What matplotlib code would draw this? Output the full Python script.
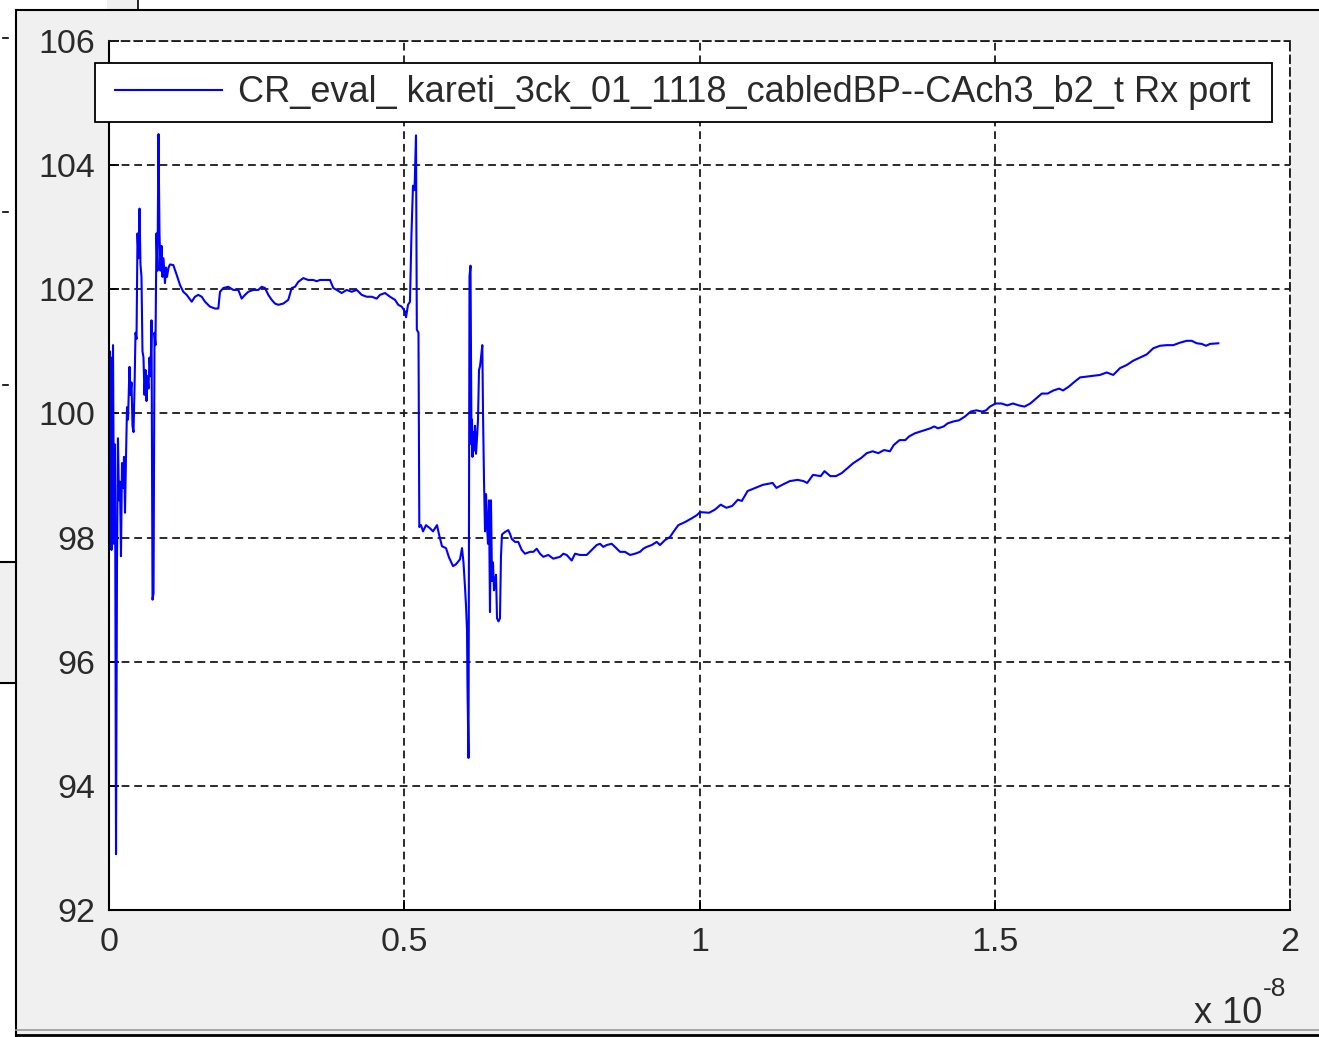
import numpy as np
import matplotlib
matplotlib.use('Agg')
import matplotlib.pyplot as plt
from matplotlib.patches import Rectangle
from matplotlib.lines import Line2D

plt.rcParams['font.family'] = ['Liberation Sans', 'DejaVu Sans']
plt.rcParams['font.size'] = 24.5

# time axis in units of 1e-8 s, impedance-like level on y
t_start = [0, 0.00085, 0.0017, 0.0025, 0.0034, 0.0042, 0.0051, 0.0068, 0.0085, 0.0102,
           0.0119, 0.0135, 0.0152, 0.0169, 0.0186, 0.0203, 0.0220, 0.0237, 0.0254, 0.0271,
           0.0288, 0.0305, 0.0322, 0.0347, 0.0364, 0.0381, 0.0398, 0.0415, 0.0432, 0.0449,
           0.0466, 0.0483, 0.0500, 0.0517, 0.0533, 0.0550, 0.0567, 0.0584, 0.0601, 0.0618,
           0.0635, 0.0652, 0.0669, 0.0686, 0.0703, 0.0720, 0.0737, 0.0754, 0.0771, 0.0787,
           0.0804, 0.0821, 0.0838, 0.0855, 0.0872, 0.0889, 0.0906, 0.0923, 0.0948, 0.0965,
           0.0982, 0.1008, 0.1033]
v_start = [100.0, 97.9, 101.0, 98.0, 100.9, 97.8, 99.0, 101.1, 97.9, 99.5,
           92.9, 97.5, 99.6, 98.6, 98.9, 97.7, 99.2, 98.8, 99.3, 98.4,
           99.3, 100.1, 99.9, 100.75, 100.3, 100.5, 99.8, 99.7, 100.4, 101.3,
           101.2, 102.9, 102.5, 103.3, 102.4, 102.2, 101.0, 100.9, 100.3, 100.7,
           100.2, 100.6, 100.4, 100.9, 100.6, 101.5, 97.0, 97.1, 101.3, 101.1,
           102.9, 102.3, 104.5, 102.9, 102.3, 102.7, 102.2, 102.5, 102.1, 102.35,
           102.2, 102.35, 102.4]

t_plateau = [0.1089, 0.1147, 0.1202, 0.1258, 0.1316, 0.1401, 0.1456, 0.1512, 0.1570, 0.1626,
             0.1710, 0.1795, 0.1851, 0.1880, 0.1936, 0.2020, 0.2105, 0.2190, 0.2247, 0.2303,
             0.2359, 0.2444, 0.2528, 0.2586, 0.2642, 0.2698, 0.2755, 0.2811, 0.2867, 0.2952,
             0.3036, 0.3094, 0.3150, 0.3206, 0.3290, 0.3375, 0.3460, 0.3517, 0.3573, 0.3658,
             0.3743, 0.3799, 0.3856, 0.3941, 0.4025, 0.4110, 0.4195, 0.4280, 0.4364, 0.4449,
             0.4534, 0.4589, 0.4674, 0.4759, 0.4843, 0.4899, 0.4957, 0.5013, 0.5030]
v_plateau = [102.39, 102.23, 102.07, 101.96, 101.91, 101.80, 101.88, 101.91, 101.88, 101.80,
             101.72, 101.69, 101.69, 101.96, 102.02, 102.04, 101.99, 101.99, 101.85, 101.91,
             101.96, 101.99, 101.99, 102.04, 102.02, 101.91, 101.83, 101.77, 101.75, 101.77,
             101.83, 102.02, 102.04, 102.12, 102.18, 102.15, 102.15, 102.13, 102.15, 102.15,
             102.15, 102.02, 101.99, 101.94, 101.99, 101.96, 101.99, 101.91, 101.88, 101.88,
             101.85, 101.91, 101.94, 101.88, 101.83, 101.75, 101.72, 101.64, 101.55]

t_middle = [0.5064, 0.5097, 0.5121, 0.5148, 0.5174, 0.5199, 0.5213, 0.5241, 0.5255, 0.5284,
            0.5318, 0.5368, 0.5436, 0.5487, 0.5555, 0.5589, 0.5639, 0.5707, 0.5758, 0.5826,
            0.5876, 0.5944, 0.5978, 0.6003, 0.6029, 0.6046, 0.6063, 0.6071, 0.6088, 0.6105,
            0.6122, 0.6139, 0.6147, 0.6156, 0.6164, 0.6181, 0.6198, 0.6215, 0.6232, 0.6249,
            0.6266, 0.6283, 0.6300, 0.6322, 0.6334, 0.6351, 0.6368, 0.6385, 0.6401, 0.6418,
            0.6435, 0.6452, 0.6469, 0.6486, 0.6503, 0.6520, 0.6537, 0.6554, 0.6571, 0.6596,
            0.6621, 0.6638, 0.6655]
v_middle = [101.75, 101.80, 102.85, 103.67, 103.6, 104.48, 101.35, 101.3, 98.17, 98.2,
            98.1, 98.2, 98.15, 98.1, 98.2, 98.05, 97.86, 97.83, 97.68, 97.54,
            97.57, 97.65, 97.83, 97.6, 97.2, 96.9, 96.5, 95.6, 94.45, 102.2,
            102.38, 99.5, 99.9, 99.3, 99.7, 99.4, 99.8, 99.35, 99.6, 99.9,
            100.7, 100.76, 100.9, 101.1, 100.0, 98.9, 98.1, 98.7, 98.2, 97.9,
            98.6, 96.8, 98.6, 97.3, 97.6, 97.15, 97.3, 97.4, 96.7, 96.65,
            96.7, 97.7, 98.05]

t_valley = [0.6706, 0.6762, 0.6791, 0.6820, 0.6876, 0.6931, 0.6989, 0.7045, 0.7130, 0.7186,
            0.7243, 0.7299, 0.7355, 0.7440, 0.7524, 0.7638, 0.7694, 0.7751, 0.7836, 0.7892,
            0.7976, 0.8090, 0.8175, 0.8259, 0.8315, 0.8371, 0.8429, 0.8513, 0.8569, 0.8654,
            0.8738, 0.8823, 0.8908, 0.8992, 0.9048, 0.9106, 0.9191, 0.9275, 0.9331, 0.9416,
            0.9501, 0.9557, 0.9641, 0.9755, 0.9868, 0.9953, 1.0009]
v_valley = [98.09, 98.12, 98.06, 97.98, 97.93, 97.93, 97.80, 97.74, 97.77, 97.77,
            97.82, 97.74, 97.69, 97.72, 97.66, 97.69, 97.74, 97.72, 97.63, 97.74,
            97.72, 97.72, 97.80, 97.88, 97.90, 97.85, 97.88, 97.90, 97.85, 97.77,
            97.77, 97.72, 97.74, 97.77, 97.82, 97.85, 97.88, 97.93, 97.88, 97.96,
            98.01, 98.09, 98.20, 98.25, 98.31, 98.36, 98.41]

t_ramp = [1.0163, 1.0261, 1.0359, 1.0456, 1.0554, 1.0650, 1.0716, 1.0815, 1.0945, 1.1075,
          1.1238, 1.1302, 1.1401, 1.1531, 1.1662, 1.1760, 1.1824, 1.1922, 1.2053, 1.2117,
          1.2215, 1.2312, 1.2410, 1.2508, 1.2605, 1.2735, 1.2833, 1.2932, 1.3028, 1.3126,
          1.3225, 1.3289, 1.3387, 1.3485, 1.3550, 1.3648, 1.3746, 1.3810, 1.3909, 1.3975,
          1.4039, 1.4136, 1.4202, 1.4298, 1.4397, 1.4495, 1.4593, 1.4689, 1.4788, 1.4854,
          1.4918, 1.5016, 1.5113, 1.5211, 1.5309, 1.5407, 1.5504, 1.5602, 1.5700, 1.5797,
          1.5895, 1.5993, 1.6090, 1.6156, 1.6252, 1.6351, 1.6444, 1.6613, 1.6782, 1.6896,
          1.7007, 1.7121, 1.7235, 1.7346, 1.7460, 1.7573, 1.7685, 1.7798, 1.7912, 1.8024,
          1.8137, 1.8251, 1.8336, 1.8420, 1.8505, 1.8578, 1.8646, 1.8786]
v_ramp = [98.40, 98.45, 98.53, 98.48, 98.51, 98.61, 98.59, 98.75, 98.80, 98.85,
          98.88, 98.80, 98.85, 98.91, 98.93, 98.91, 98.88, 99.01, 98.99, 99.07,
          98.99, 98.99, 99.04, 99.12, 99.20, 99.28, 99.36, 99.39, 99.36, 99.41,
          99.39, 99.49, 99.57, 99.57, 99.63, 99.68, 99.71, 99.73, 99.76, 99.79,
          99.76, 99.79, 99.84, 99.87, 99.89, 99.95, 100.03, 100.05, 100.03, 100.05,
          100.11, 100.16, 100.16, 100.13, 100.16, 100.13, 100.11, 100.16, 100.24, 100.32,
          100.32, 100.37, 100.40, 100.37, 100.43, 100.51, 100.58, 100.60, 100.62, 100.66,
          100.62, 100.73, 100.78, 100.85, 100.90, 100.95, 101.05, 101.09, 101.10, 101.10,
          101.14, 101.17, 101.17, 101.13, 101.12, 101.09, 101.12, 101.13]

trace_label = 'CR_eval_ kareti_3ck_01_1118_cabledBP--CAch3_b2_t Rx port'
x_ticks = [0, 0.5, 1, 1.5, 2]
x_tick_labels = ['0', '0.5', '1', '1.5', '2']
y_ticks = [92, 94, 96, 98, 100, 102, 104, 106]

t_all = np.concatenate([t_start, t_plateau, t_middle, t_valley, t_ramp])
v_all = np.concatenate([v_start, v_plateau, v_middle, v_valley, v_ramp])

W, H = 1319, 1037
text_col = '#2a2a2a'
fig = plt.figure(figsize=(W / 100, H / 100), dpi=100, facecolor='#f0f0f0')

# window chrome drawn in pixel space behind the plot
bg = fig.add_axes([0, 0, 1, 1], zorder=-5)
bg.set_xlim(0, W)
bg.set_ylim(H, 0)
bg.axis('off')
bg.add_patch(Rectangle((0, 0), W, 10, color='white', lw=0))
bg.add_patch(Rectangle((0, 0), 16, H, color='white', lw=0))
bg.add_patch(Rectangle((107, 0), 31, 10, color='#f0f0f0', lw=0))
bg.add_patch(Rectangle((0, 562), 16, 121, color='#f0f0f0', lw=0))
bg.plot([0, 16], [562, 562], color='black', lw=1.5)
bg.plot([0, 16], [683, 683], color='black', lw=1.5)
bg.plot([138, 138], [0, 10], color='black', lw=1.2)
bg.plot([16, 16], [10, H], color='black', lw=1.5)
bg.plot([16, W], [10, 10], color='black', lw=1.5)
bg.plot([16, W], [1030, 1030], color='#9a9a9a', lw=1.2)
bg.plot([16, W], [1035, 1035], color='black', lw=2)
for yy in [38, 212, 385]:
    bg.plot([3, 8], [yy, yy], color='black', lw=1.2)

ax = fig.add_axes([109 / W, 1 - 910 / H, 1181 / W, 869 / H])
ax.set_facecolor('white')
line, = ax.plot(t_all, v_all, color='#0000ff', lw=1.5)

ax.set_xlim(0, 2)
ax.set_ylim(92, 106)
ax.set_xticks(x_ticks)
ax.set_xticklabels(x_tick_labels)
ax.set_yticks(y_ticks)

dash = (0, (4.3, 2.7))
ax.grid(True, color='#1a1a1a', linestyle=dash, linewidth=1.3)
for side in ['left', 'bottom']:
    ax.spines[side].set_linewidth(1.5)
    ax.spines[side].set_color('black')
for side in ['top', 'right']:
    ax.spines[side].set_linestyle(dash)
    ax.spines[side].set_linewidth(1.3)
    ax.spines[side].set_color('#1a1a1a')

ax.tick_params(direction='in', length=7, width=1.3, colors='black',
               labelcolor=text_col, labelsize=24.5)
ax.tick_params(axis='y', pad=10)
ax.tick_params(axis='x', pad=12)

# legend box (MATLAB style, wider left padding than matplotlib allows)
box = Rectangle((95 / W, 1 - 122 / H), 1177 / W, 59 / H, transform=fig.transFigure,
                facecolor='white', edgecolor='black', lw=1.3, zorder=3)
fig.add_artist(box)
leg = fig.legend([line], [trace_label], loc='center left',
                 bbox_to_anchor=(115 / W, 1 - 93 / H), bbox_transform=fig.transFigure,
                 frameon=False, borderpad=0, borderaxespad=0, handlelength=2.95,
                 handletextpad=0.45, fontsize=26)
leg.set_zorder(4)
for txt in leg.get_texts():
    txt.set_color(text_col)

# exponent note under the x axis
fig.text(1262 / W, 1 - 1023 / H, 'x 10', ha='right', va='baseline',
         fontsize=26, color=text_col)
fig.text(1263 / W, 1 - 996 / H, '-8', ha='left', va='baseline',
         fontsize=19, color=text_col)

fig.savefig('out.png', dpi=100, facecolor=fig.get_facecolor())
